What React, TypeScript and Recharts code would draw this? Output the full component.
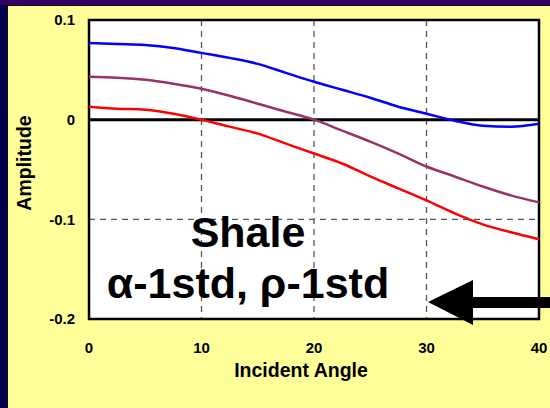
import { LineChart, Line, XAxis, YAxis, CartesianGrid, ReferenceLine, ReferenceArea } from 'recharts';

const angles = [0, 2.5, 5, 7.5, 10, 12.5, 15, 17.5, 20, 22.5, 25, 27.5, 30, 32.5, 35, 37.5, 40];
const blueValues = [0.077, 0.076, 0.075, 0.072, 0.067, 0.062, 0.056, 0.047, 0.038, 0.030, 0.022, 0.013, 0.006, -0.001, -0.006, -0.007, -0.004];
const purpleValues = [0.043, 0.042, 0.040, 0.036, 0.031, 0.024, 0.016, 0.008, 0.0, -0.011, -0.022, -0.034, -0.047, -0.057, -0.067, -0.076, -0.083];
const redValues = [0.013, 0.011, 0.010, 0.006, 0.0, -0.007, -0.014, -0.024, -0.034, -0.044, -0.057, -0.069, -0.081, -0.094, -0.105, -0.113, -0.120];
const xTicks = [0, 10, 20, 30, 40];
const yTicks = [-0.2, -0.1, 0, 0.1];

const data = angles.map((a, i) => ({
  angle: a,
  blue: blueValues[i],
  purple: purpleValues[i],
  red: redValues[i],
}));

const FONT = '"Liberation Sans", Arial, sans-serif';

export default function App() {
  return (
    <div style={{ position: 'fixed', left: 0, top: 0, width: 550, height: 408, background: '#00004f', overflow: 'hidden', fontFamily: FONT }}>
      <div style={{ position: 'absolute', left: 0, top: 0, width: 550, height: 5, background: '#330066' }} />
      <div style={{ position: 'absolute', left: 7, top: 5, width: 543, height: 403, background: '#111' }} />
      <div style={{ position: 'absolute', left: 8, top: 6, width: 542, height: 402, background: '#ffff99' }} />
      <div style={{ position: 'absolute', left: 0, top: 0 }}>
        <LineChart width={550} height={408} data={data} margin={{ top: 20, right: 11, bottom: 59, left: 29 }}>
          <CartesianGrid strokeDasharray="6 5" stroke="#555" strokeWidth={1.3} fill="#fff" />
          <XAxis
            dataKey="angle"
            type="number"
            domain={[0, 40]}
            ticks={xTicks}
            axisLine={false}
            tickLine={false}
            tickSize={0}
            tickMargin={23}
            height={30}
            tick={{ fill: '#000', fontSize: 15, fontWeight: 'bold', fontFamily: FONT }}
          />
          <YAxis
            type="number"
            domain={[-0.2, 0.1]}
            ticks={yTicks}
            axisLine={false}
            tickLine={false}
            tickSize={0}
            tickMargin={14}
            width={60}
            tickFormatter={(v: number) => String(Math.round(v * 10) / 10)}
            tick={{ fill: '#000', fontSize: 15, fontWeight: 'bold', fontFamily: FONT }}
          />
          <ReferenceLine y={0} stroke="#000" strokeWidth={3} />
          <Line type="monotone" dataKey="blue" stroke="#0000ff" strokeWidth={2.5} dot={false} isAnimationActive={false} />
          <Line type="monotone" dataKey="purple" stroke="#993366" strokeWidth={2.5} dot={false} isAnimationActive={false} />
          <Line type="monotone" dataKey="red" stroke="#ff0000" strokeWidth={2.5} dot={false} isAnimationActive={false} />
          <ReferenceArea x1={0} x2={40} y1={-0.2} y2={0.1} fill="none" stroke="#000" strokeWidth={2.5} ifOverflow="visible" />
        </LineChart>
      </div>
      <svg width={550} height={408} style={{ position: 'absolute', left: 0, top: 0, pointerEvents: 'none' }}>
        <text x={24} y={163} transform="rotate(-90 24 163)" textAnchor="middle" dominantBaseline="central" fontSize={19.5} fontWeight="bold" fill="#000" fontFamily={FONT}>
          Amplitude
        </text>
        <text x={301} y={377} textAnchor="middle" fontSize={19.5} fontWeight="bold" fill="#000" fontFamily={FONT}>
          Incident Angle
        </text>
        <text x={248} y={247} textAnchor="middle" fontSize={43} fontWeight="bold" fill="#000" fontFamily={FONT}>
          Shale
        </text>
        <text x={248} y={298} textAnchor="middle" fontSize={43} fontWeight="bold" fill="#000" fontFamily={FONT}>
          α-1std, ρ-1std
        </text>
        <polygon points="428,302 473,280 473,297 550,297 550,308 473,308 473,325" fill="#000" />
      </svg>
    </div>
  );
}
